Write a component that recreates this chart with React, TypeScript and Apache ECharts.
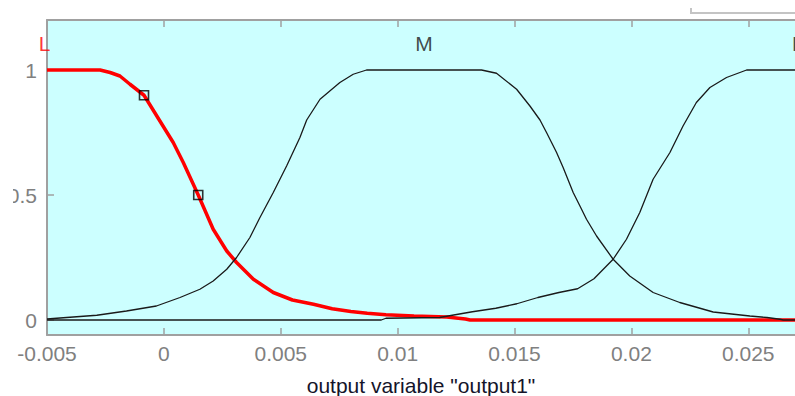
import React, { useEffect, useRef } from "react";
import * as echarts from "echarts";

const xTicks = [-0.005, 0, 0.005, 0.01, 0.015, 0.02, 0.025];
const yTicks = [0, 0.5, 1];

// membership function "L" (red)
const lowX = [-0.005, -0.00273, -0.0023, -0.00188, -0.00145, -0.00085, -0.00017, 0.0004, 0.00083, 0.00147, 0.00211, 0.00269, 0.00311, 0.00383, 0.00468, 0.0055, 0.0064, 0.0072, 0.008, 0.0087, 0.0095, 0.0107, 0.0121, 0.0129, 0.0131, 0.027];
const lowY = [1, 1, 0.99, 0.976, 0.943, 0.899, 0.796, 0.71, 0.63, 0.5, 0.363, 0.276, 0.23, 0.163, 0.11, 0.08, 0.063, 0.045, 0.034, 0.027, 0.021, 0.016, 0.012, 0.004, 0, 0];

// membership function "M"
const medX = [-0.005, -0.00416, -0.00287, -0.0016, -0.00032, 0.00069, 0.00154, 0.00211, 0.00269, 0.00311, 0.00368, 0.00411, 0.00468, 0.00525, 0.00582, 0.00611, 0.00668, 0.00753, 0.0081, 0.00867, 0.01359, 0.01423, 0.01509, 0.01566, 0.01609, 0.01637, 0.0168, 0.01708, 0.01751, 0.0178, 0.01808, 0.01851, 0.01922, 0.01993, 0.02093, 0.02207, 0.0235, 0.02507, 0.0258, 0.02635, 0.0265, 0.027];
const medY = [0.004, 0.01, 0.019, 0.036, 0.056, 0.09, 0.123, 0.156, 0.203, 0.25, 0.33, 0.41, 0.51, 0.616, 0.73, 0.8, 0.883, 0.95, 0.983, 1, 1, 0.987, 0.923, 0.856, 0.8, 0.75, 0.67, 0.61, 0.51, 0.456, 0.403, 0.336, 0.243, 0.176, 0.11, 0.07, 0.032, 0.016, 0.01, 0.003, 0, 0];

// membership function "H"
const highX = [-0.005, 0.0093, 0.0095, 0.0118, 0.0124, 0.0132, 0.0142, 0.0151, 0.016, 0.0169, 0.0177, 0.0184, 0.01922, 0.01979, 0.02036, 0.02093, 0.02165, 0.02221, 0.02278, 0.02336, 0.02407, 0.02493, 0.027];
const highY = [0, 0, 0.007, 0.01, 0.02, 0.033, 0.047, 0.065, 0.09, 0.11, 0.125, 0.165, 0.243, 0.323, 0.43, 0.563, 0.67, 0.776, 0.87, 0.93, 0.97, 1, 1];

const markerX = [-0.00085, 0.00147];
const markerY = [0.899, 0.5];

const mfNames = ["L", "M", "H"];
const mfNameX = [-0.0051, 0.01113, 0.0272];
const mfNameY = [1.105, 1.105, 1.105];
const mfNameColors = ["#ff0000", "#1a1a1a", "#1a1a1a"];

const xName = 'output variable "output1"';

const FONT = 'Arial, "Liberation Sans", sans-serif';
const zip = (xs: number[], ys: number[]) => xs.map((x, i) => [x, ys[i]]);

export default function App() {
  const ref = useRef<HTMLDivElement>(null);
  useEffect(() => {
    if (!ref.current) return;
    const chart = echarts.init(ref.current, null, { renderer: "svg" });
    const axisColor = "#a0a0a0";
    const labelColor = "#808080";
    chart.setOption({
      animation: false,
      backgroundColor: "#ffffff",
      textStyle: { fontFamily: FONT },
      grid: {
        left: 47,
        right: 0,
        top: 20,
        bottom: 61,
        outerBoundsMode: "none",
        containLabel: false,
        show: true,
        backgroundColor: "#ccffff",
        borderWidth: 0,
      },
      xAxis: [
        {
          type: "value",
          position: "bottom",
          min: -0.005,
          max: 0.027,
          axisLine: { show: true, onZero: false, lineStyle: { color: axisColor, width: 2 } },
          axisTick: { show: true, inside: true, length: 7, customValues: xTicks, lineStyle: { color: axisColor, width: 1.5 } },
          axisLabel: {
            show: true,
            customValues: xTicks,
            color: labelColor,
            fontSize: 21,
            fontFamily: FONT,
            margin: 8,
            formatter: (v: number) => String(v),
          },
          splitLine: { show: false },
          name: xName,
          nameLocation: "middle",
          nameGap: 40,
          nameTextStyle: { color: "#14142a", fontSize: 21, fontFamily: FONT },
        },
        {
          type: "value",
          position: "top",
          min: -0.005,
          max: 0.027,
          axisLine: { show: true, onZero: false, lineStyle: { color: axisColor, width: 2 } },
          axisTick: { show: true, inside: true, length: 7, customValues: xTicks, lineStyle: { color: axisColor, width: 1.5 } },
          axisLabel: { show: false },
          splitLine: { show: false },
        },
      ],
      yAxis: {
        type: "value",
        min: -0.06,
        max: 1.2,
        axisLine: { show: true, onZero: false, lineStyle: { color: axisColor, width: 2 } },
        axisTick: { show: true, inside: true, length: 7, customValues: yTicks, lineStyle: { color: axisColor, width: 1.5 } },
        axisLabel: {
          show: true,
          customValues: yTicks,
          color: labelColor,
          fontSize: 21,
          fontFamily: FONT,
          margin: 10,
          formatter: (v: number) => String(v),
        },
        splitLine: { show: false },
      },
      series: [
        {
          type: "line",
          data: zip(lowX, lowY),
          showSymbol: false,
          lineStyle: { color: "#ff0000", width: 3.5 },
          z: 2,
        },
        {
          type: "line",
          data: zip(medX, medY),
          showSymbol: false,
          lineStyle: { color: "#1a1a1a", width: 1.3 },
          z: 3,
        },
        {
          type: "line",
          data: zip(highX, highY),
          showSymbol: false,
          lineStyle: { color: "#1a1a1a", width: 1.3 },
          z: 3,
        },
        {
          type: "scatter",
          data: zip(markerX, markerY),
          symbol: "rect",
          symbolSize: 9,
          itemStyle: { color: "rgba(0,0,0,0)", borderColor: "#000000", borderWidth: 1.6 },
          z: 5,
        },
        {
          type: "scatter",
          clip: false,
          symbolSize: 1,
          itemStyle: { color: "rgba(0,0,0,0)" },
          data: mfNames.map((n, i) => ({
            name: n,
            value: [mfNameX[i], mfNameY[i]],
            label: { color: mfNameColors[i] },
          })),
          label: {
            show: true,
            position: "inside",
            formatter: (p: any) => p.name,
            fontSize: 21,
            fontFamily: FONT,
          },
          z: 6,
        },
      ],
      graphic: [
        {
          type: "rect",
          left: 0,
          top: 180,
          shape: { width: 13, height: 32 },
          style: { fill: "#ffffff" },
          z: 100,
        },
        {
          type: "polyline",
          shape: { points: [[691, 8], [691, 13], [796, 13]] },
          style: { stroke: "#c4c4c4", lineWidth: 2, fill: "none" },
          z: 100,
        },
      ],
    });
    return () => chart.dispose();
  }, []);
  return (
    <div
      ref={ref}
      style={{ position: "absolute", left: 0, top: 0, width: 795, height: 396, background: "#ffffff" }}
    />
  );
}
